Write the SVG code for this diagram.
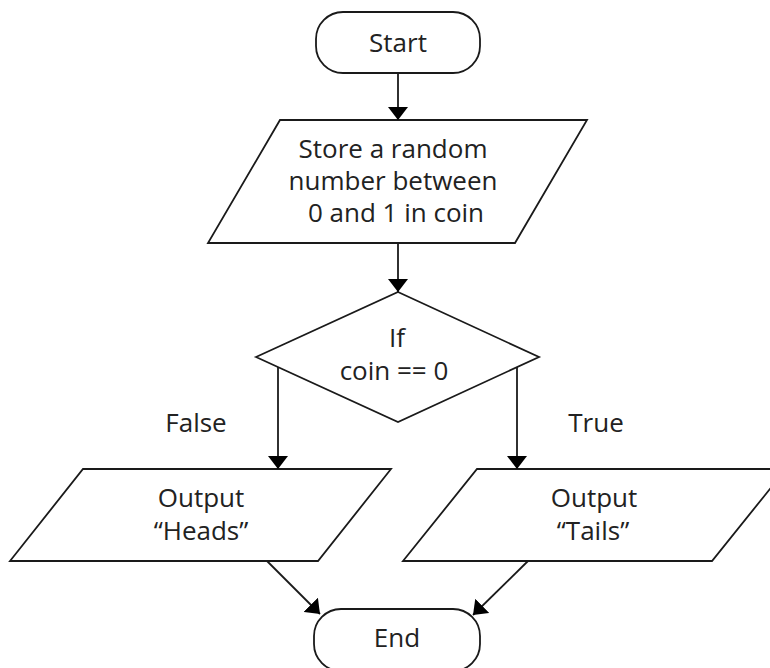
<svg xmlns="http://www.w3.org/2000/svg" width="770" height="668" viewBox="0 0 770 668">
<style>
.shape{fill:#fff;stroke:#1a1a1a;stroke-width:1.8;stroke-linejoin:miter}
.lbl{font-family:"Open Sans","Noto Sans","DejaVu Sans",sans-serif;font-size:26px;fill:#222;text-anchor:middle}
.conn{fill:none;stroke:#1a1a1a;stroke-width:1.8}
</style>
<defs>
<marker id="arr" viewBox="0 0 13 20" refX="13" refY="10" markerWidth="13" markerHeight="20" markerUnits="userSpaceOnUse" orient="auto">
<path d="M0,0 L13,10 L0,20 z" fill="#000"/>
</marker>
</defs>
<rect width="770" height="668" fill="#fff"/>
<g id="start">
<rect class="shape" x="316" y="12" width="164" height="61" rx="27" ry="27"/>
<text class="lbl" x="398" y="52">Start</text>
</g>
<g id="store">
<polygon class="shape" points="280,120 587,120 515,243 208,243"/>
<text class="lbl" x="393" y="158">Store a random</text>
<text class="lbl" x="393" y="190">number between</text>
<text class="lbl" x="396" y="222">0 and 1 in coin</text>
</g>
<g id="decision">
<polygon class="shape" points="398,292 539,357 398,422 256,357"/>
<text class="lbl" x="397" y="347">If</text>
<text class="lbl" x="394" y="380">coin == 0</text>
</g>
<g id="heads">
<polygon class="shape" points="83,469 391,469 318,561 10,561"/>
<text class="lbl" x="201" y="507">Output</text>
<text class="lbl" x="201" y="540">“Heads”</text>
</g>
<g id="tails">
<polygon class="shape" points="477,469 786,469 712,561 403,561"/>
<text class="lbl" x="594" y="507">Output</text>
<text class="lbl" x="593" y="540">“Tails”</text>
</g>
<g id="end">
<rect class="shape" x="314" y="609" width="166" height="62" rx="27" ry="27"/>
<text class="lbl" x="397" y="647">End</text>
</g>
<g id="connectors">
<line class="conn" x1="398" y1="73" x2="398" y2="120" marker-end="url(#arr)"/>
<line class="conn" x1="398" y1="243" x2="398" y2="292" marker-end="url(#arr)"/>
<line class="conn" x1="278" y1="367" x2="278" y2="469" marker-end="url(#arr)"/>
<line class="conn" x1="517" y1="367" x2="517" y2="469" marker-end="url(#arr)"/>
<line class="conn" x1="267" y1="561" x2="320" y2="614" marker-end="url(#arr)"/>
<line class="conn" x1="528" y1="561" x2="473" y2="615" marker-end="url(#arr)"/>
</g>
<g id="labels">
<text class="lbl" x="196" y="432">False</text>
<text class="lbl" x="596" y="432">True</text>
</g>
</svg>
